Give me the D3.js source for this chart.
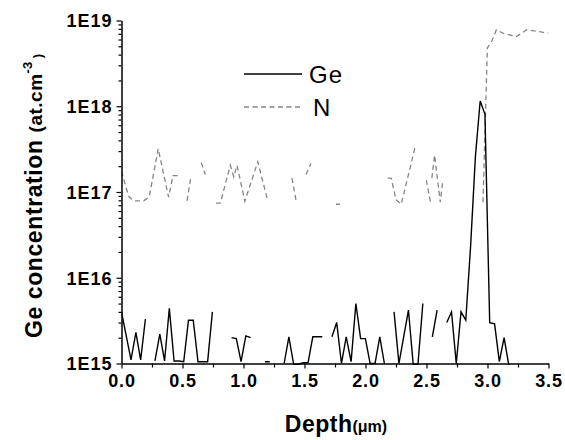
<!DOCTYPE html>
<html>
<head>
<meta charset="utf-8">
<script src="https://cdn.jsdelivr.net/npm/d3@7"></script>
<style>
  html, body { margin: 0; padding: 0; background: #fff; }
  svg { display: block; }
  text { font-family: "Liberation Sans", Arial, Helvetica, sans-serif; }
</style>
</head>
<body>
<svg id="chart" width="565" height="440"></svg>
<script>
// ---------------- data ----------------
const xTicks = [0, 0.5, 1.0, 1.5, 2.0, 2.5, 3.0, 3.5];
const xMinorTicks = [0.25, 0.75, 1.25, 1.75, 2.25, 2.75, 3.25];
const yTicks = [1e15, 1e16, 1e17, 1e18, 1e19];
const yTickLabels = ["1E15", "1E16", "1E17", "1E18", "1E19"];
const seriesNames = ["Ge", "N"];

// Ge profile (depth in µm, concentration in at.cm-3; null = no data)
const geDepth = [0, 0.039, 0.078, 0.118, 0.157, 0.196, 0.235, 0.274, 0.314, 0.353,
  0.392, 0.431, 0.47, 0.51, 0.549, 0.588, 0.627, 0.666, 0.706, 0.745,
  0.784, 0.823, 0.862, 0.902, 0.941, 0.98, 1.019, 1.058, 1.098, 1.137,
  1.176, 1.215, 1.254, 1.294, 1.333, 1.372, 1.411, 1.45, 1.49, 1.529,
  1.568, 1.607, 1.646, 1.686, 1.725, 1.764, 1.803, 1.842, 1.882, 1.921,
  1.96, 1.999, 2.038, 2.078, 2.117, 2.156, 2.195, 2.234, 2.274, 2.313,
  2.352, 2.391, 2.43, 2.47, 2.509, 2.548, 2.587, 2.626, 2.666, 2.705,
  2.744, 2.783, 2.822, 2.862, 2.901, 2.94, 2.979, 3.018, 3.058, 3.097,
  3.136, 3.175];
const geConc = [4.0e15, 2.1e15, 1.1e15, 2.3e15, 1.1e15, 3.3e15, null, 1.07e15, 2.2e15, 1.07e15,
  4.4e15, 1.07e15, 1.07e15, 1.05e15, 3.2e15, 3.2e15, 1.05e15, 1.05e15, 1.05e15, 4.0e15,
  null, null, null, 2.0e15, 1.95e15, 1.05e15, 2.1e15, 2.0e15, null, null,
  1.05e15, 1.05e15, null, null, 1.0e15, 2.05e15, 0.98e15, 0.98e15, 1.02e15, 1.02e15,
  2.05e15, 2.05e15, 2.05e15, null, 2.05e15, 3.0e15, 1.0e15, 2.05e15, 1.05e15, 5.0e15,
  1.95e15, 1.95e15, 1.0e15, 1.0e15, 2.05e15, 0.98e15, null, 4.0e15, 1.0e15, 2.05e15,
  4.2e15, 0.98e15, 0.98e15, 5.0e15, null, 2.05e15, 4.2e15, null, 3.0e15, 4.0e15,
  1.0e15, 4.0e15, 3.2e15, 2.4e16, 2.6e17, 1.15e18, 8.1e17, 3.0e15, 2.9e15, 1.05e15,
  2.0e15, 0.95e15];

// N profile
const nDepth = [0, 0.058, 0.101, 0.148, 0.181, 0.227, 0.301, 0.386, 0.422, 0.46,
  0.5, 0.537, 0.569, 0.61, 0.654, 0.687, 0.73, 0.775, 0.81, 0.892,
  0.92, 0.947, 1.011, 1.117, 1.2, 1.3, 1.397, 1.435, 1.47, 1.512,
  1.553, 1.65, 1.758, 1.79, 2.0, 2.182, 2.21, 2.251, 2.293, 2.408,
  2.45, 2.498, 2.533, 2.538, 2.544, 2.566, 2.613, 2.634, 2.8, 2.963,
  2.999, 3.032, 3.073, 3.127, 3.237, 3.322, 3.428, 3.497];
const nConc = [1.74e17, 8.9e16, 7.9e16, 7.9e16, 7.9e16, 8.7e16, 3.2e17, 8.7e16, 1.55e17, 1.55e17,
  null, 7.9e16, 1.5e17, null, 2.2e17, 1.6e17, null, 7.4e16, 7.4e16, 2.05e17,
  1.5e17, 2.05e17, 7.8e16, 2.25e17, 7.8e16, null, 1.45e17, 7.4e16, null, 1.6e17,
  2.15e17, null, 7.2e16, 7.2e16, null, 1.45e17, 1.45e17, 8.1e16, 7.2e16, 3.4e17,
  null, 1.38e17, 7.6e16, null, 1.45e17, 2.7e17, 7.6e16, 1.38e17, null, 7.6e16,
  4.8e18, 5.6e18, 7.8e18, 7.1e18, 6.5e18, 7.8e18, 7.4e18, 7.1e18];

// ---------------- chart ----------------
const svg = d3.select("#chart");
const plot = { left: 121.5, right: 548.5, top: 20.5, bottom: 363.5 };

const x = d3.scaleLinear().domain([0, 3.5]).range([plot.left, plot.right]);
const y = d3.scaleLog().domain([1e15, 1e19]).range([plot.bottom, plot.top]);

svg.append("defs").append("clipPath").attr("id", "clip")
  .append("rect")
  .attr("x", plot.left).attr("y", plot.top - 2)
  .attr("width", plot.right - plot.left + 2)
  .attr("height", plot.bottom - plot.top + 3.5);

const geData = geDepth.map((d, i) => ({ x: d, v: geConc[i] }));
const nData = nDepth.map((d, i) => ({ x: d, v: nConc[i] }));

const line = d3.line()
  .defined(d => d.v != null)
  .x(d => x(d.x))
  .y(d => y(d.v));

const g = svg.append("g").attr("clip-path", "url(#clip)");
g.append("path").datum(nData)
  .attr("d", line)
  .attr("fill", "none")
  .attr("stroke", "#858585")
  .attr("stroke-width", 1.3)
  .attr("stroke-dasharray", "5,3.5");
g.append("path").datum(geData)
  .attr("d", line)
  .attr("fill", "none")
  .attr("stroke", "#000")
  .attr("stroke-width", 1.4)
  .attr("stroke-linejoin", "miter");

// ---- axes ----
const tickFont = "bold 18px 'Liberation Sans', Arial, sans-serif";

const xAxis = svg.append("g").attr("transform", `translate(0,${plot.bottom})`)
  .call(d3.axisBottom(x).tickValues(xTicks).tickSize(5).tickSizeOuter(0)
    .tickFormat(d3.format(".1f")));
svg.append("g").attr("transform", `translate(0,${plot.bottom})`)
  .call(d3.axisBottom(x).tickValues(xMinorTicks).tickSize(4).tickFormat(""))
  .call(s => s.select(".domain").remove());

const yAxis = svg.append("g").attr("transform", `translate(${plot.left},0)`)
  .call(d3.axisLeft(y).tickValues(yTicks).tickSize(5).tickSizeOuter(0)
    .tickFormat((d, i) => yTickLabels[i]));
const yMinor = y.ticks().filter(v => yTicks.indexOf(v) < 0);
svg.append("g").attr("transform", `translate(${plot.left},0)`)
  .call(d3.axisLeft(y).tickValues(yMinor).tickSize(3).tickFormat(""))
  .call(s => s.select(".domain").remove());

svg.selectAll(".domain").attr("stroke", "#000").attr("stroke-width", 1.5);
svg.selectAll(".tick line").attr("stroke", "#000").attr("stroke-width", 1.2);

xAxis.selectAll(".tick text")
  .style("font", tickFont).attr("fill", "#000")
  .attr("letter-spacing", "0.8px")
  .attr("y", 11).attr("dy", "0.71em");
yAxis.selectAll(".tick text")
  .style("font", tickFont).attr("fill", "#000")
  .attr("letter-spacing", "1px")
  .attr("x", -9).attr("dy", "0.36em");

// ---- axis titles ----
const xt = svg.append("text")
  .attr("x", 336).attr("y", 432)
  .attr("text-anchor", "middle")
  .attr("font-weight", "bold").attr("fill", "#000");
xt.append("tspan").attr("font-size", "23px").attr("letter-spacing", "0.5px").text("Depth");
xt.append("tspan").attr("font-size", "16px").text("(μm)");

const yt = svg.append("text")
  .attr("transform", "translate(42,196) rotate(-90)")
  .attr("text-anchor", "middle")
  .attr("font-weight", "bold").attr("fill", "#000");
yt.append("tspan").attr("font-size", "23px").attr("letter-spacing", "0.6px").text("Ge concentration ");
yt.append("tspan").attr("font-size", "19px").attr("letter-spacing", "0.5px").text("(at.cm");
yt.append("tspan").attr("font-size", "13px").attr("dy", -10).text("-3");
yt.append("tspan").attr("font-size", "13px").attr("dy", 10).text(" )");

// ---- legend ----
const legend = svg.append("g");
const legItems = [
  { name: seriesNames[0], y: 74, color: "#000", dash: null, tx: 309 },
  { name: seriesNames[1], y: 107, color: "#858585", dash: "5,3.5", tx: 313 }
];
legItems.forEach(it => {
  legend.append("line")
    .attr("x1", 244).attr("x2", 302)
    .attr("y1", it.y).attr("y2", it.y)
    .attr("stroke", it.color).attr("stroke-width", 1.4)
    .attr("stroke-dasharray", it.dash);
  legend.append("text")
    .attr("x", it.tx).attr("y", it.y + 8.5)
    .attr("font-size", "24px").attr("fill", "#000")
    .attr("letter-spacing", "1px")
    .text(it.name);
});
</script>
</body>
</html>
